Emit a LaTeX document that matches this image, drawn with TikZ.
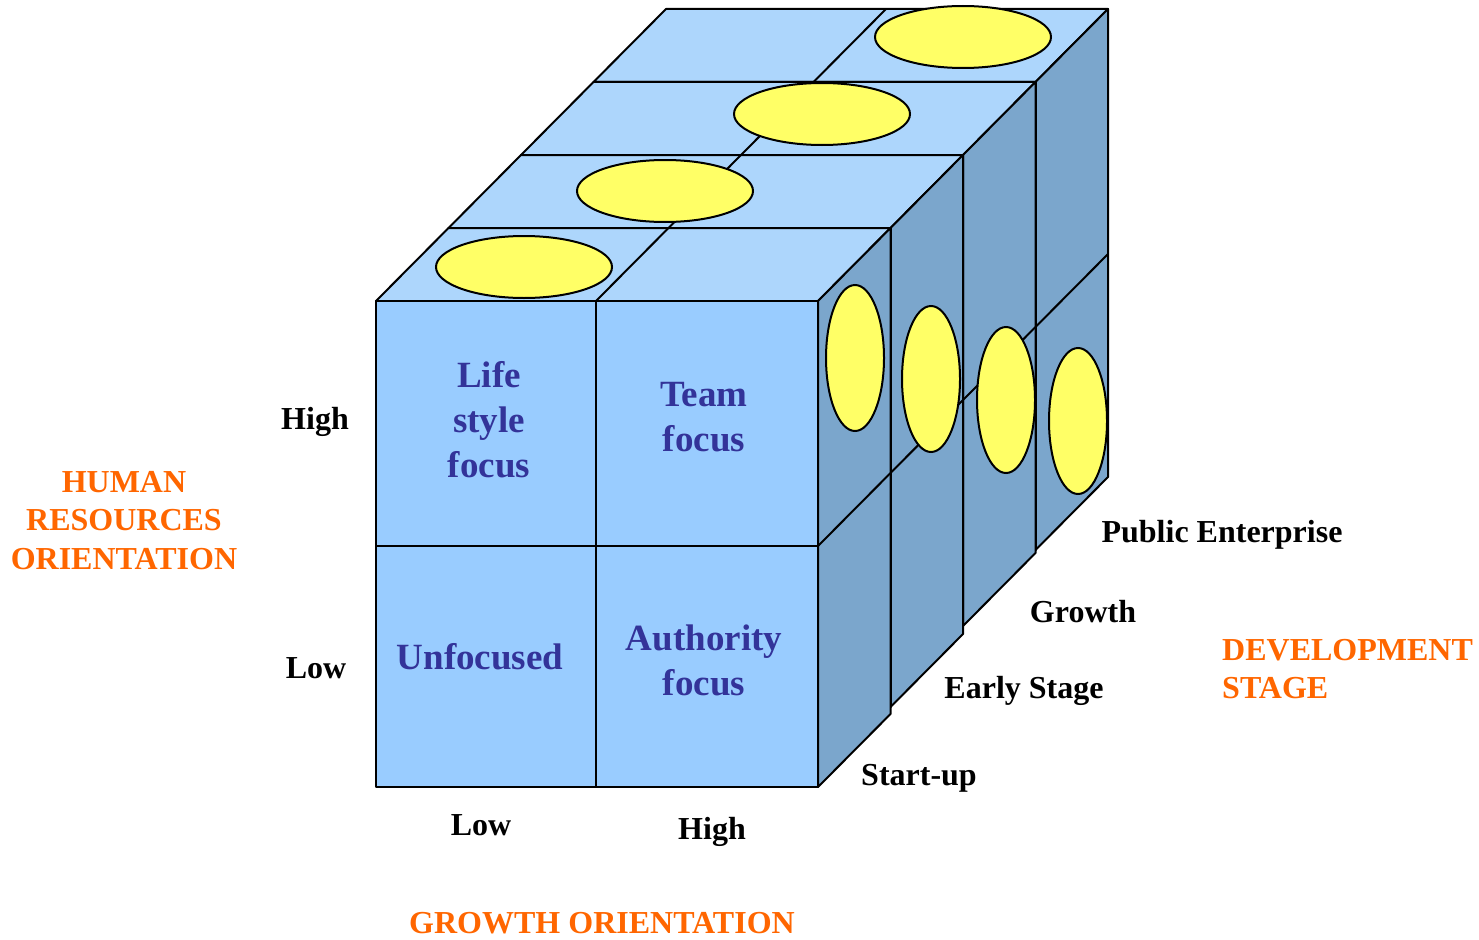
\documentclass[tikz,border=0pt]{standalone}
\usepackage{fontspec}
\setmainfont{Liberation Serif}
\definecolor{frontc}{HTML}{99CCFF}
\definecolor{topc}{HTML}{ADD6FC}
\definecolor{sidec}{HTML}{7BA6CC}
\definecolor{yel}{HTML}{FFFF66}
\definecolor{txtblue}{HTML}{333399}
\definecolor{orng}{HTML}{FF6600}
\begin{document}
\begin{tikzpicture}[x=1pt,y=-1pt,
  face/.style={draw=black,line width=2pt,line join=round},
  egg/.style={draw=black,line width=2pt,fill=yel},
  lbl/.style={inner sep=0pt,text height=21.2pt,text depth=0pt,font=\fontsize{32}{38.5}\selectfont\bfseries},
  orl/.style={lbl,text=orng},
  mlbl/.style={inner sep=0pt,font=\fontsize{32}{38.5}\selectfont\bfseries,text=orng},
  cell/.style={inner sep=0pt,text height=24.5pt,text depth=0pt,text=txtblue,font=\fontsize{37}{45}\selectfont\bfseries},
  mcell/.style={inner sep=0pt,anchor=north,align=center,text=txtblue,font=\fontsize{37}{45}\selectfont\bfseries}]
\useasboundingbox (0,0) rectangle (1479,939);
\foreach \k/\b/\tx/\ty/\sx/\sy in {3/550/963/37/1078/421, 2/626/822/114/1006/400, 1/707/665/191/931/379, 0/787/524/267/855/358} {
  \pgfmathsetmacro\bb{\b+73*\k}
  \begin{scope}[shift={(72.5*\k,-73*\k)}]
    \draw[face,fill=topc] (376,301) -- (818,301) -- (890.5,228) -- (448.5,228) -- cycle;
    \draw[face,fill=sidec] (818,301) -- (890.5,228) -- (890.5,\bb-73) -- (818,\bb) -- cycle;
    \draw[face,fill=frontc] (376,301) rectangle (818,\bb);
    \draw[face] (596,301) -- (668.5,228);
    \draw[face] (818,546) -- (890.5,473);
    \draw[face] (596,301) -- (596,\bb);
    \draw[face] (376,546) -- (818,546);
  \end{scope}
  \draw[egg] (\tx,\ty) ellipse [x radius=88, y radius=31];
  \draw[egg] (\sx,\sy) ellipse [x radius=29, y radius=73];
}
\node[mcell] (life) at (489,361) {Life\\style\\focus};
\node[mcell] (team) at (704,382) {Team\\focus};
\node[cell] (unf) at (480,657) {Unfocused};
\node[mcell] (auth) at (704,625) {Authority\\focus};
\node[lbl] (hrhigh) at (315,419) {High};
\node[lbl] (hrlow) at (316,668) {Low};
\node[mlbl,align=center,anchor=north] (hro) at (124,471) {HUMAN\\RESOURCES\\ORIENTATION};
\node[lbl] (glow) at (481,825) {Low};
\node[lbl] (ghigh) at (712,829) {High};
\node[orl] (go) at (602,923) {GROWTH ORIENTATION};
\node[lbl] (pub) at (1222,532) {Public Enterprise};
\node[lbl] (grw) at (1083,612) {Growth};
\node[lbl] (early) at (1024,688) {Early Stage};
\node[lbl] (start) at (919,775) {Start-up};
\node[mlbl,align=left,anchor=north west] (ds) at (1222,639) {DEVELOPMENT\\STAGE};
\end{tikzpicture}
\end{document}
